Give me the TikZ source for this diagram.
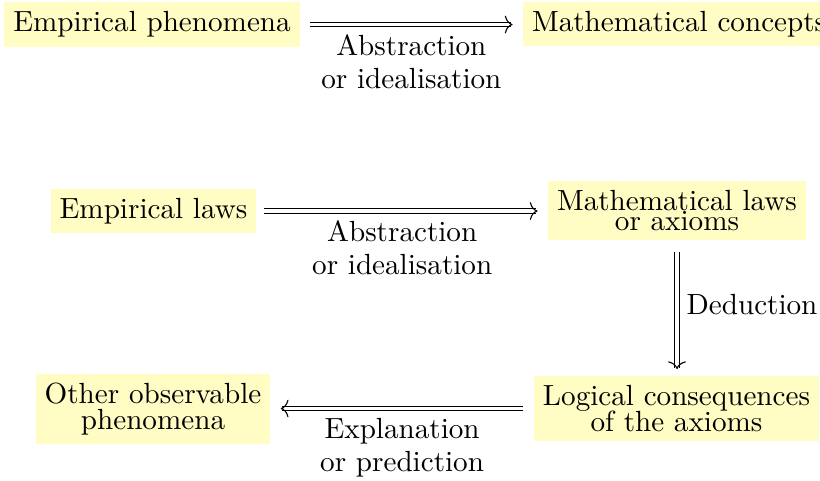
\documentclass[tikz,border=0pt]{standalone}
\usetikzlibrary{arrows.meta}
\begin{document}
\begin{tikzpicture}[x=0.3636pt,y=-0.3636pt,
  font=\fontsize{10.6}{12}\selectfont,
  box/.style={fill=yellow!23, inner sep=3.3pt, align=center, outer sep=0pt},
  dbl/.style={double, double distance=1.2pt, line width=0.4pt, -{To[length=2.8pt,width=6.4pt]}, shorten <=3.8pt, shorten >=3.8pt},
  lab/.style={align=center, inner sep=2pt, yshift=-1.4pt}]
\useasboundingbox (0,0) rectangle (820,480);
\node[box] (ep) at (152,24.5) {Empirical phenomena};
\node[box, anchor=west] (mc) at (523,24) {Mathematical concepts};
\draw[dbl] (ep) -- (ep -| mc.west) node[midway, below, lab] {Abstraction\\or idealisation};

\node[box] (el) at (153.5,211) {Empirical laws};
\node[box] (ml) at (677,210.5) {Mathematical laws\\[-4.8pt]or axioms};
\draw[dbl, shorten <=2.9pt] (el) -- (el -| ml.west) node[midway, below, lab] {Abstraction\\or idealisation};

\node[box] (lc) at (676.5,408.5) {Logical consequences\\[-2.6pt]of the axioms};
\node[box] (op) at (153,409) {Other observable\\[-2.6pt]phenomena};
\draw[dbl, shorten <=4.6pt, shorten >=2.6pt] (ml) -- (ml |- lc.north) node[midway, right, lab, inner sep=3.3pt, yshift=2.5pt] {Deduction};
\draw[dbl] (lc) -- (lc -| op.east) node[midway, below, lab] {Explanation\\or prediction};
\end{tikzpicture}
\end{document}
